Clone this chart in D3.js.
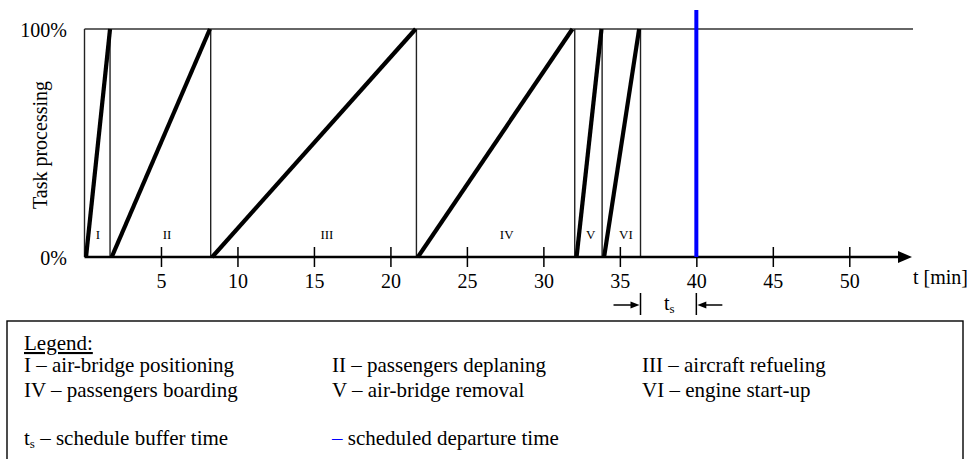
<!DOCTYPE html>
<html>
<head>
<meta charset="utf-8">
<script src="https://cdn.jsdelivr.net/npm/d3@7"></script>
<style>
  html, body { margin: 0; padding: 0; background: #fff; }
  svg { display: block; }
  text { font-family: "Liberation Serif", "Times New Roman", serif; fill: #000; }
</style>
</head>
<body>
<svg id="chart" width="967" height="459"></svg>
<script>
// ---- data ----
const taskNames    = ["I", "II", "III", "IV", "V", "VI"];
const taskStart    = [0.1, 1.78, 8.35, 21.8, 32.17, 33.97];   // min, 0%
const taskEnd      = [1.67, 8.2, 21.65, 31.9, 33.8, 36.26];   // min, 100%
const taskBoundary = [0, 1.67, 8.25, 21.7, 32.05, 33.84, 36.35];
const taskLabelAt  = [0.88, 5.4, 15.85, 27.6, 33.1, 35.4];
const xTicks       = [5, 10, 15, 20, 25, 30, 35, 40, 45, 50];
const yTicks       = [0, 100];
const yTickLabels  = ["0%", "100%"];
const departureTime = 40;
const bufferStart  = 36.35;
const xAxisLabel   = "t [min]";
const yAxisLabel   = "Task processing";
const legendTitle  = "Legend:";
const legendRows   = [
  ["I – air-bridge positioning", "II – passengers deplaning", "III – aircraft refueling"],
  ["IV – passengers boarding", "V – air-bridge removal", "VI – engine start-up"]
];

// ---- layout ----
const svg = d3.select("#chart");
const x = d3.scaleLinear().domain([0, 50]).range([84.5, 849.3]);
const y = d3.scaleLinear().domain([0, 100]).range([257, 29]);
const axisEnd = 912;

// top 100% line
svg.append("line")
  .attr("x1", x(0)).attr("x2", 913)
  .attr("y1", y(100)).attr("y2", y(100))
  .attr("stroke", "#333").attr("stroke-width", 1.5);

// thin vertical task boundaries
svg.selectAll("line.bound").data(taskBoundary).join("line")
  .attr("class", "bound")
  .attr("x1", d => x(d)).attr("x2", d => x(d))
  .attr("y1", y(100)).attr("y2", y(0))
  .attr("stroke", "#222").attr("stroke-width", 1.4);

// thick task progress lines
svg.selectAll("line.task").data(taskNames).join("line")
  .attr("class", "task")
  .attr("x1", (d, i) => x(taskStart[i])).attr("y1", y(0))
  .attr("x2", (d, i) => x(taskEnd[i])).attr("y2", y(100))
  .attr("stroke", "#000").attr("stroke-width", 4.2);

// roman labels
svg.selectAll("text.tlabel").data(taskNames).join("text")
  .attr("class", "tlabel")
  .attr("x", (d, i) => x(taskLabelAt[i]))
  .attr("y", y(0) - 18)
  .attr("text-anchor", "middle")
  .attr("font-size", 13)
  .text(d => d);

// x axis
const xAxis = svg.append("g")
  .attr("transform", `translate(0,${y(0)})`)
  .call(d3.axisBottom(x).tickValues(xTicks).tickSize(10).tickSizeOuter(0).tickFormat(d3.format("d")));
xAxis.select(".domain").remove();
xAxis.selectAll(".tick line").attr("y1", -10).attr("y2", 10)
  .attr("stroke", "#000").attr("stroke-width", 1.5);
xAxis.selectAll(".tick text")
  .attr("y", 31).attr("dy", null)
  .attr("font-size", 20)
  .attr("font-family", "Liberation Serif, Times New Roman, serif")
  .attr("fill", "#000");

svg.append("line")
  .attr("x1", x(0)).attr("x2", axisEnd - 10)
  .attr("y1", y(0)).attr("y2", y(0))
  .attr("stroke", "#000").attr("stroke-width", 2.6);
svg.append("path")
  .attr("d", `M${axisEnd},${y(0)} L${axisEnd - 14},${y(0) - 6} L${axisEnd - 14},${y(0) + 6} Z`)
  .attr("fill", "#000");

svg.append("text")
  .attr("x", 913).attr("y", 284)
  .attr("font-size", 20)
  .text(xAxisLabel);

// y labels
svg.selectAll("text.ylab").data(yTicks).join("text")
  .attr("class", "ylab")
  .attr("x", 67).attr("y", d => y(d) + 7.5)
  .attr("text-anchor", "end")
  .attr("font-size", 20)
  .text((d, i) => yTickLabels[i]);

svg.append("text")
  .attr("transform", "translate(47,145) rotate(-90)")
  .attr("text-anchor", "middle")
  .attr("font-size", 20)
  .text(yAxisLabel);

// departure line
svg.append("line")
  .attr("x1", x(departureTime)).attr("x2", x(departureTime))
  .attr("y1", 10).attr("y2", y(0))
  .attr("stroke", "#0000ff").attr("stroke-width", 4);

// buffer time annotation
const annY = 305;
[bufferStart, departureTime].forEach(v => {
  svg.append("line")
    .attr("x1", x(v)).attr("x2", x(v)).attr("y1", 293).attr("y2", 315)
    .attr("stroke", "#000").attr("stroke-width", 1.5);
});
function arrow(fromX, toX) {
  const dir = Math.sign(toX - fromX);
  svg.append("line")
    .attr("x1", fromX).attr("x2", toX - dir * 8)
    .attr("y1", annY).attr("y2", annY)
    .attr("stroke", "#000").attr("stroke-width", 1.5);
  svg.append("path")
    .attr("d", `M${toX - dir * 1},${annY} L${toX - dir * 10},${annY - 3.5} L${toX - dir * 10},${annY + 3.5} Z`)
    .attr("fill", "#000");
}
arrow(x(bufferStart) - 27, x(bufferStart));
arrow(x(departureTime) + 26, x(departureTime));
const ts = svg.append("text")
  .attr("x", 664).attr("y", 310)
  .attr("font-size", 20);
ts.append("tspan").text("t");
ts.append("tspan").attr("font-size", 13).attr("dy", 3).text("s");

// legend box
svg.append("rect")
  .attr("x", 7).attr("y", 321).attr("width", 956).attr("height", 160)
  .attr("fill", "none").attr("stroke", "#000").attr("stroke-width", 1.4);

const colX = [24, 332, 642];
const rowY = [372, 397];
svg.append("text")
  .attr("x", colX[0]).attr("y", 350)
  .attr("font-size", 21)
  .attr("text-decoration", "underline")
  .text(legendTitle);

legendRows.forEach((row, r) => {
  row.forEach((t, c) => {
    svg.append("text")
      .attr("x", colX[c]).attr("y", rowY[r])
      .attr("font-size", 21)
      .text(t);
  });
});

const l1 = svg.append("text").attr("x", colX[0]).attr("y", 445).attr("font-size", 21);
l1.append("tspan").text("t");
l1.append("tspan").attr("font-size", 13).attr("dy", 3).text("s");
l1.append("tspan").attr("dy", -3).text(" – schedule buffer time");

const l2 = svg.append("text").attr("x", colX[1]).attr("y", 445).attr("font-size", 21);
l2.append("tspan").style("fill", "#0000ff").text("–");
l2.append("tspan").text(" scheduled departure time");
</script>
</body>
</html>
